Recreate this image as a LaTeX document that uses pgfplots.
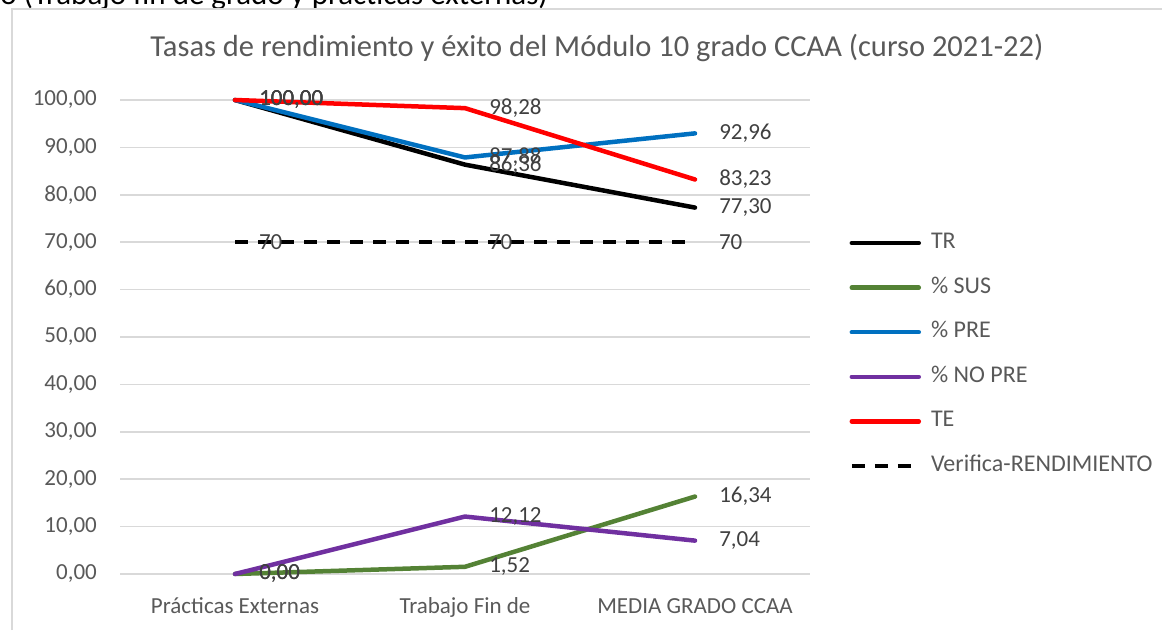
\documentclass[border=0pt]{standalone}
\usepackage{pgfplots}
\pgfplotsset{compat=1.18}
\usepackage{fontspec}
\setmainfont{Carlito}
\definecolor{txt}{HTML}{595959}
\definecolor{lab}{HTML}{404040}
\definecolor{gridc}{HTML}{D9D9D9}
\definecolor{cgreen}{HTML}{548235}
\definecolor{cblue}{HTML}{0070C0}
\definecolor{cpurple}{HTML}{7030A0}
\definecolor{cred}{HTML}{FF0000}
\begin{document}
\begin{tikzpicture}
\useasboundingbox (0pt,0pt) rectangle (1162pt,630pt);
\begin{scope}
\clip (0pt,0pt) rectangle (1162pt,630pt);
\node[anchor=base east, inner sep=0pt, font=\fontsize{31}{36}\selectfont] at (548pt,625.5pt) {o (Trabajo fin de grado y prácticas externas)};
\end{scope}
\draw[gridc, line width=1.5pt] (12pt,0pt) -- (12pt,621pt) -- (1162pt,621pt);
\node[font=\fontsize{30.5}{36}\selectfont, text=txt] at (597pt,582pt) {Tasas de rendimiento y éxito del Módulo 10 grado CCAA (curso 2021-22)};
\begin{axis}[
  at={(120pt,56pt)}, anchor=south west, scale only axis, width=690pt, height=474pt,
  xmin=-0.5, xmax=2.5, ymin=0, ymax=100,
  axis line style={draw=none},
  xtick={0,1,2}, xticklabels={Prácticas Externas, Trabajo Fin de, MEDIA GRADO CCAA},
  ytick={0,10,...,100},
  xtick pos=bottom, ytick pos=left,
  major tick length=0pt,
  ymajorgrids, grid style={gridc, line width=1.5pt},
  /pgf/number format/assume math mode=true,
  tick label style={font=\fontsize{23}{27}\selectfont, text=txt},
  yticklabel style={anchor=east, inner sep=0pt, xshift=-23pt, /pgf/number format/fixed, /pgf/number format/fixed zerofill, /pgf/number format/precision=2, /pgf/number format/use comma},
  xticklabel style={anchor=base, inner sep=0pt, yshift=-39pt},
  clip=false,
  nodes near coords,
  every node near coord/.append style={anchor=west, inner sep=0pt, xshift=22pt, font=\fontsize{23}{27}\selectfont, text=lab, /pgf/number format/fixed, /pgf/number format/fixed zerofill, /pgf/number format/precision=2, /pgf/number format/use comma},
  legend style={at={(1.057,0.463)}, anchor=west, draw=none, fill=none, font=\fontsize{24}{28}\selectfont, text=txt, row sep=23.6pt, inner sep=0pt, nodes={inner sep=0pt, text height=16pt, text depth=5pt}},
  legend cell align=left,
  legend image code/.code={\draw[#1] (0pt,0pt) -- (67pt,0pt); \path (77pt,0pt);},
]
\addplot[black, line width=4.5pt, line cap=round, line join=round] coordinates {(0,100) (1,86.36) (2,77.30)};
\addlegendentry{TR}
\addplot[cgreen, line width=4.5pt, line cap=round, line join=round] coordinates {(0,0) (1,1.52) (2,16.34)};
\addlegendentry{\% SUS}
\addplot[cblue, line width=4.5pt, line cap=round, line join=round] coordinates {(0,100) (1,87.88) (2,92.96)};
\addlegendentry{\% PRE}
\addplot[cpurple, line width=4.5pt, line cap=round, line join=round] coordinates {(0,0) (1,12.12) (2,7.04)};
\addlegendentry{\% NO PRE}
\addplot[cred, line width=4.5pt, line cap=round, line join=round] coordinates {(0,100) (1,98.28) (2,83.23)};
\addlegendentry{TE}
\addplot[black, line width=4pt, dash pattern=on 13pt off 10pt, every node near coord/.append style={/pgf/number format/precision=0}] coordinates {(0,70) (1,70) (2,70)};
\addlegendentry{Verifica-RENDIMIENTO}
\end{axis}
\end{tikzpicture}
\end{document}
